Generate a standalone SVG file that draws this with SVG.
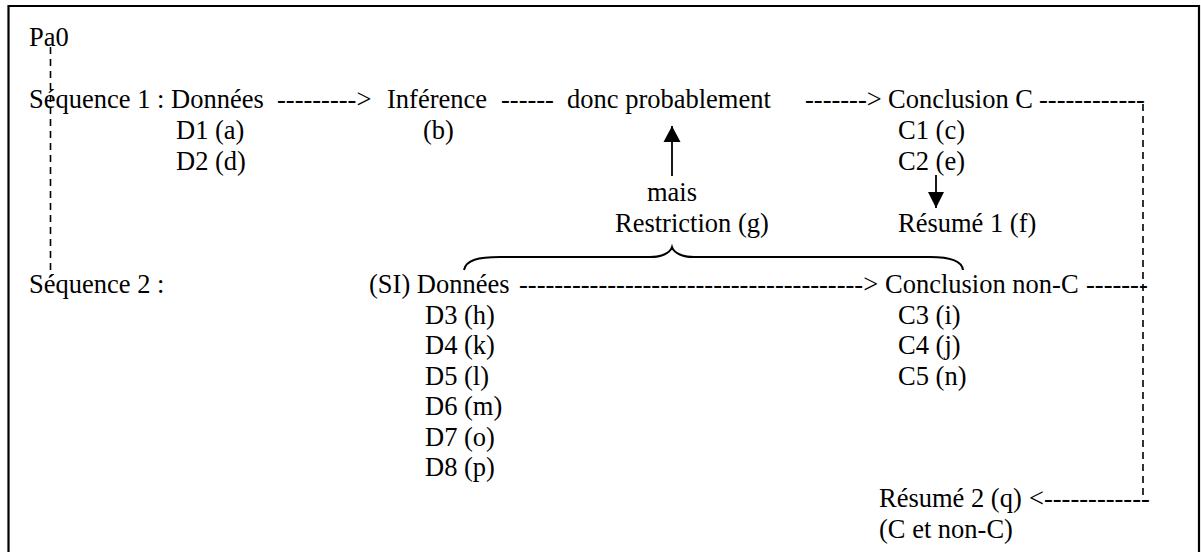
<svg xmlns="http://www.w3.org/2000/svg" width="1201" height="552" viewBox="0 0 1201 552">
<style>
  text { font-family: "Liberation Serif", "Times New Roman", serif; font-size: 26.5px; fill: #000; }
  .frame { fill: none; stroke: #000; stroke-width: 2.2; }
  .dash { fill: none; stroke: #000; stroke-width: 1.6; stroke-dasharray: 7 5; }
  .solid { fill: none; stroke: #000; stroke-width: 1.8; }
  .brace { fill: none; stroke: #000; stroke-width: 2; }
</style>
<rect width="1201" height="552" fill="#fff"/>
<path class="frame" d="M8.5,552 V6 H1199 V552"/>

<g id="connectors">
  <line class="dash" x1="50.5" y1="47" x2="50.5" y2="277"/>
  <line class="dash" x1="1143" y1="104" x2="1143" y2="501"/>
  <text x="277" y="108">---------&gt;</text>
  <text x="501" y="108">------</text>
  <text x="805" y="108">-------&gt;</text>
  <text x="1039" y="108">------------</text>
  <text x="519" y="293">---------------------------------------&gt;</text>
  <text x="1086" y="293">-------</text>
  <text x="1029" y="507">&lt;------------</text>
  <path d="M672,176 V126" class="solid"/>
  <path d="M672,142 L663.5,142 L672,126 L680.5,142 Z" fill="#000"/>
  <path d="M936,175 V208" class="solid"/>
  <path d="M936,192 L928,192 L936,208 L944,192 Z" fill="#000"/>
  <path class="brace" d="M464,270 C466,260 478,257 500,257 L650,257 C662,257 670,253 672,247 C674,253 682,257 694,257 L930,257 C950,257 962,261 963,270"/>
</g>

<g id="pa0"><text x="29" y="46">Pa0</text></g>
<g id="sequence1"><text x="29" y="108">Séquence 1 : Données</text>
  <text x="176" y="139">D1 (a)</text>
  <text x="176" y="170">D2 (d)</text></g>
<g id="inference"><text x="387" y="108">Inférence</text>
  <text x="423" y="139">(b)</text></g>
<g id="donc"><text x="567" y="108">donc probablement</text></g>
<g id="conclusionC"><text x="888" y="108">Conclusion C</text>
  <text x="898" y="139">C1 (c)</text>
  <text x="898" y="170">C2 (e)</text></g>
<g id="restriction"><text x="647" y="201">mais</text>
  <text x="615" y="232">Restriction (g)</text></g>
<g id="resume1"><text x="898" y="232">Résumé 1 (f)</text></g>
<g id="sequence2"><text x="29" y="293">Séquence 2 :</text></g>
<g id="donnees2"><text x="369" y="293">(SI) Données</text>
  <text x="425" y="323.5">D3 (h)</text>
  <text x="425" y="354">D4 (k)</text>
  <text x="425" y="384.5">D5 (l)</text>
  <text x="425" y="415">D6 (m)</text>
  <text x="425" y="445.5">D7 (o)</text>
  <text x="425" y="476">D8 (p)</text></g>
<g id="conclusionNonC"><text x="885" y="293">Conclusion non-C</text>
  <text x="898" y="323.5">C3 (i)</text>
  <text x="898" y="354">C4 (j)</text>
  <text x="898" y="384.5">C5 (n)</text></g>
<g id="resume2"><text x="879" y="507">Résumé 2 (q)</text>
  <text x="879" y="537.5">(C et non-C)</text></g>
</svg>
